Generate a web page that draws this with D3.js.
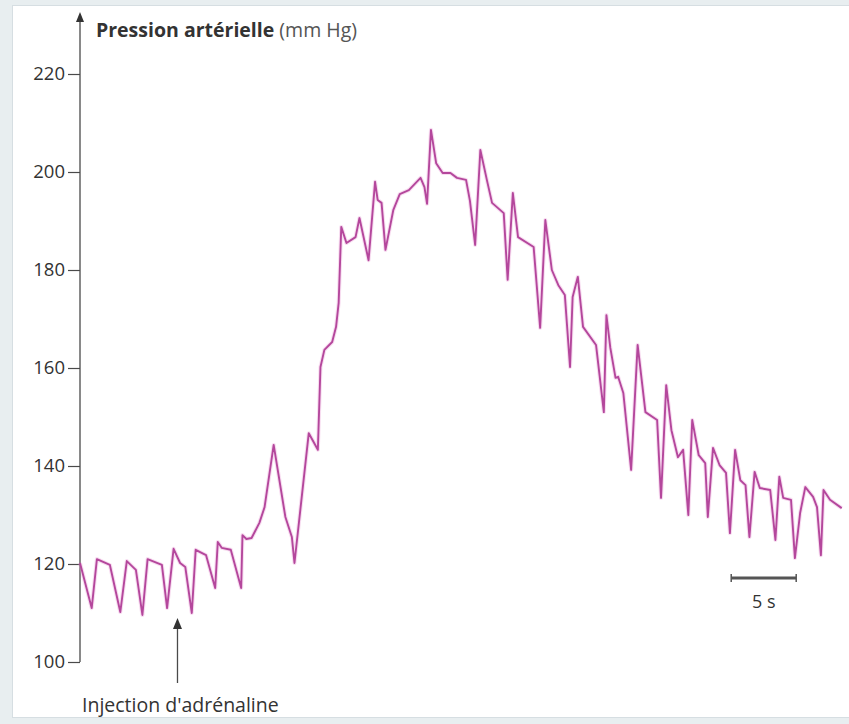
<!DOCTYPE html>
<html>
<head>
<meta charset="utf-8">
<script src="https://cdn.jsdelivr.net/npm/d3@7"></script>
<style>
  html, body { margin: 0; padding: 0; background: #e8eef0; }
  svg { display: block; }
</style>
</head>
<body>
<div id="chart"></div>
<script>
// Time in seconds
const times = [
  0, 0.9, 1.3, 2.3, 3.1, 3.6, 4.3, 4.8, 5.2, 6.3, 6.7, 7.2, 7.7, 8.1, 8.6, 8.9,
  9.7, 10.4, 10.6, 10.9, 11.6, 12.4, 12.5, 12.8, 13.2, 13.8, 14.2, 14.9, 15.8,
  16.3, 16.5, 17.6, 18.3, 18.5, 18.8, 19.4, 19.7, 19.9, 20.1, 20.5, 21.2, 21.5,
  22.2, 22.7, 22.9, 23.2, 23.5, 24.1, 24.6, 25.3, 26.2, 26.5, 26.7, 27.0, 27.4,
  27.9, 28.5, 29.0, 29.7, 30.0, 30.4, 30.8, 31.3, 31.7, 32.6, 32.9, 33.3, 33.7,
  34.9, 35.4, 35.8, 36.3, 36.8, 37.3, 37.7, 37.9, 38.3, 38.7, 39.7, 40.3, 40.5,
  40.8, 41.2, 41.4, 41.8, 42.4, 42.9, 43.5, 44.4, 44.7, 45.1, 45.5, 46.0, 46.4,
  46.8, 47.1, 47.6, 48.1, 48.3, 48.7, 49.2, 49.7, 50.0, 50.4, 50.8, 51.2, 51.5,
  51.9, 52.3, 53.1, 53.5, 53.8, 54.1, 54.7, 55.0, 55.4, 55.8, 56.4, 56.7, 57.0,
  57.2, 57.7, 58.6
];

// Arterial pressure in mm Hg
const pressures = [
  120.2, 111.0, 121.0, 119.8, 110.2, 120.6, 118.8, 109.6, 121.0, 119.8, 111.0,
  123.1, 120.2, 119.4, 110.0, 122.9, 121.8, 115.1, 124.5, 123.3, 122.9, 115.1,
  125.9, 125.1, 125.3, 128.4, 131.6, 144.3, 129.6, 125.5, 120.2, 146.7, 143.3,
  160.2, 163.7, 165.3, 168.4, 173.3, 188.8, 185.5, 186.7, 190.6, 182.0, 198.0,
  194.3, 193.7, 184.1, 192.2, 195.5, 196.3, 198.8, 196.9, 193.5, 208.6, 201.8,
  199.8, 199.8, 198.8, 198.4, 194.1, 185.1, 204.5, 198.4, 193.7, 191.6, 178.0,
  195.7, 186.7, 184.7, 168.2, 190.2, 180.0, 176.9, 174.9, 160.2, 174.5, 178.6,
  168.4, 164.7, 151.0, 170.8, 164.1, 158.0, 158.2, 154.9, 139.2, 164.7, 151.0,
  149.4, 133.5, 156.5, 147.3, 141.8, 143.3, 130.0, 149.4, 142.2, 140.6, 129.6,
  143.7, 140.2, 138.6, 126.3, 143.3, 137.1, 136.1, 125.5, 138.8, 135.5, 135.1,
  124.9, 137.8, 133.5, 133.1, 121.2, 130.4, 135.7, 133.7, 131.6, 121.8, 135.1,
  133.1, 131.4
];

const yTicks = [100, 120, 140, 160, 180, 200, 220];
const axisTitleBold = "Pression artérielle";
const axisTitleUnit = " (mm Hg)";
const injectionLabel = "Injection d'adrénaline";
const injectionTime = 7.5;
const scaleBarSeconds = 5;
const scaleBarLabel = "5 s";

const width = 849;
const height = 724;
const font = "'Open Sans', sans-serif";
const ink = "#4a4a4a";

const svg = d3.select("#chart")
  .append("svg")
  .attr("width", width)
  .attr("height", height);

// light frame
svg.append("rect")
  .attr("x", 0).attr("y", 0)
  .attr("width", width).attr("height", height)
  .attr("fill", "#e8eef0");

svg.append("rect")
  .attr("x", 12.5).attr("y", 5.5)
  .attr("width", width).attr("height", 712)
  .attr("fill", "#ffffff")
  .attr("stroke", "#d6dee2");

const x = d3.scaleLinear().domain([0, 58.7]).range([80, 843]);
const y = d3.scaleLinear().domain([100, 220]).range([662, 74]);

// Y axis
const yAxis = d3.axisLeft(y)
  .tickValues(yTicks)
  .tickSize(12)
  .tickPadding(3);

const gy = svg.append("g")
  .attr("transform", `translate(${x(0)},0)`)
  .call(yAxis);

gy.select(".domain").remove();
gy.selectAll(".tick line").attr("stroke", ink).attr("stroke-width", 1.2);
gy.selectAll(".tick text")
  .attr("fill", "#333")
  .style("font-family", font)
  .style("font-size", "18.5px");

// axis line with arrow on top
const arrowTop = 12;
svg.append("line")
  .attr("x1", x(0)).attr("x2", x(0))
  .attr("y1", y(100)).attr("y2", arrowTop + 6)
  .attr("stroke", ink)
  .attr("stroke-width", 1.3);

svg.append("path")
  .attr("d", `M${x(0)},${arrowTop} L${x(0) - 4},${arrowTop + 10} L${x(0) + 4},${arrowTop + 10} Z`)
  .attr("fill", "#333");

const title = svg.append("text")
  .attr("x", 96)
  .attr("y", 37)
  .attr("fill", "#333")
  .style("font-family", font)
  .style("font-size", "19.5px");

title.append("tspan").attr("font-weight", "bold").text(axisTitleBold);
title.append("tspan").attr("fill", "#555").text(axisTitleUnit);

// pressure trace
const line = d3.line()
  .x((d, i) => x(times[i]))
  .y((d) => y(d));

svg.append("path")
  .datum(pressures)
  .attr("fill", "none")
  .attr("stroke", "#e79bd3")
  .attr("stroke-width", 4)
  .attr("stroke-opacity", 0.35)
  .attr("stroke-linejoin", "round")
  .attr("d", line);

svg.append("path")
  .datum(pressures)
  .attr("fill", "none")
  .attr("stroke", "#b4479c")
  .attr("stroke-width", 1.9)
  .attr("stroke-linejoin", "round")
  .attr("d", line);

// injection arrow
const ix = x(injectionTime);
svg.append("line")
  .attr("x1", ix).attr("x2", ix)
  .attr("y1", 683).attr("y2", 626)
  .attr("stroke", ink)
  .attr("stroke-width", 1.3);

svg.append("path")
  .attr("d", `M${ix},618 L${ix - 4.5},629 L${ix + 4.5},629 Z`)
  .attr("fill", "#333");

svg.append("text")
  .attr("x", 82)
  .attr("y", 712)
  .attr("fill", "#333")
  .style("font-family", font)
  .style("font-size", "19.5px")
  .text(injectionLabel);

// 5 s scale bar
const sb0 = 50.1;
const sbY = 578;
svg.append("line")
  .attr("x1", x(sb0)).attr("x2", x(sb0 + scaleBarSeconds))
  .attr("y1", sbY).attr("y2", sbY)
  .attr("stroke", "#555")
  .attr("stroke-width", 3);

[sb0, sb0 + scaleBarSeconds].forEach((t) => {
  svg.append("line")
    .attr("x1", x(t)).attr("x2", x(t))
    .attr("y1", sbY - 4).attr("y2", sbY + 4)
    .attr("stroke", "#555")
    .attr("stroke-width", 1.5);
});

svg.append("text")
  .attr("x", x(sb0 + scaleBarSeconds / 2))
  .attr("y", 608)
  .attr("text-anchor", "middle")
  .attr("fill", "#333")
  .style("font-family", font)
  .style("font-size", "18px")
  .text(scaleBarLabel);
</script>
</body>
</html>
